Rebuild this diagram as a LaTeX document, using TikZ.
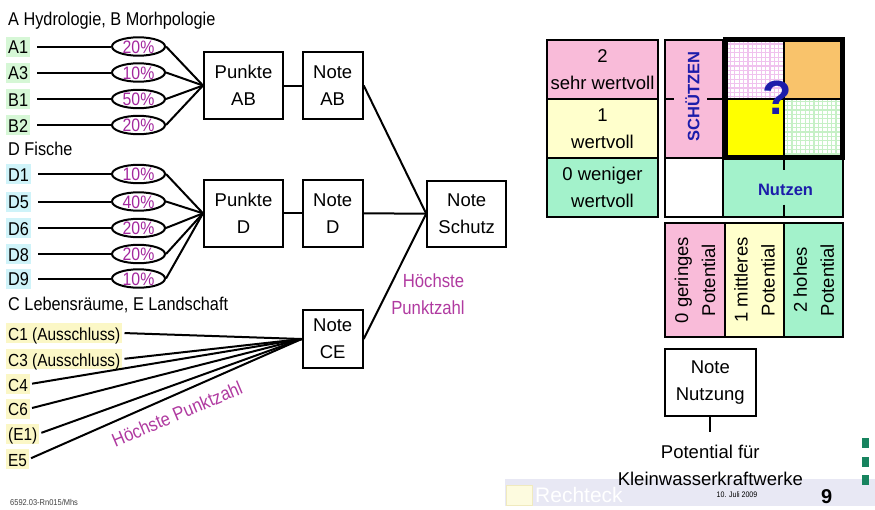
\documentclass[tikz,border=0pt]{standalone}
\usepackage{fontspec}
\setmainfont{Liberation Sans}
\newfontfamily\condfont[FakeStretch=0.88]{Liberation Sans}
\usetikzlibrary{shapes.geometric}

\definecolor{labA}{HTML}{D6F7D6}
\definecolor{labD}{HTML}{CFF3F9}
\definecolor{labC}{HTML}{FBF7C6}
\definecolor{pctcol}{HTML}{A3279E}
\definecolor{hpcol}{HTML}{B03AA0}
\definecolor{cellpink}{HTML}{F9BBD9}
\definecolor{cellyellow}{HTML}{FFFFCC}
\definecolor{cellgreen}{HTML}{A3F2CB}
\definecolor{cellorange}{HTML}{F9C36B}
\definecolor{brightyellow}{HTML}{FFFF00}
\definecolor{chkpink}{HTML}{F0C2EE}
\definecolor{chkgreen}{HTML}{C6F0C6}
\definecolor{bluetext}{HTML}{1C1CAA}
\definecolor{bandcol}{HTML}{E8E8F4}
\definecolor{squarecol}{HTML}{17845F}

\begin{document}
\begin{tikzpicture}[x=1pt,y=-1pt,
  conn/.style={line width=2pt},
  box/.style={draw, line width=2pt, fill=white, align=center, inner sep=0pt,
    font=\fontsize{18.5}{27}\selectfont},
  cell/.style={draw, line width=2pt, align=center, inner sep=0pt,
    font=\fontsize{18.5}{27}\selectfont},
  lab/.style={anchor=base west, inner xsep=2pt, inner ysep=2pt,
    text height=15pt, text depth=1pt, font=\condfont\fontsize{18.5}{22}\selectfont},
  labc/.style={lab, fill=labC, font=\condfont\fontsize{17.5}{22}\selectfont},
  pct/.style={ellipse, draw, line width=2pt, fill=white, minimum width=53pt,
    minimum height=18pt, inner sep=0pt, text height=13pt, text depth=0pt,
    text=pctcol, font=\condfont\fontsize{18}{20}\selectfont},
  head/.style={anchor=base west, inner sep=0pt, font=\condfont\fontsize{18.5}{22}\selectfont},
  hp/.style={inner sep=0pt, text=hpcol, font=\condfont\fontsize{19}{22}\selectfont},
  bluebold/.style={inner sep=0pt, text=bluetext, font=\bfseries\fontsize{16.5}{18}\selectfont},
]
\useasboundingbox (0,0) rectangle (875,509);

% ---------- left part: scoring tree ----------
\node[head] (hAB) at (8,25) {A Hydrologie, B Morhpologie};
\node[head] (hD) at (8,155) {D Fische};
\node[head] (hCE) at (8,310.5) {C Lebensräume, E Landschaft};

\node[box, minimum width=79pt, minimum height=67pt] (pab) at (243.5,85.5) {Punkte\\AB};
\node[box, minimum width=60pt, minimum height=67pt] (nab) at (332.7,85.5) {Note\\AB};
\node[box, minimum width=79pt, minimum height=67pt] (pd) at (243.5,213.3) {Punkte\\D};
\node[box, minimum width=60pt, minimum height=67pt] (nd) at (332.7,213.3) {Note\\D};
\node[box, minimum width=60pt, minimum height=58pt] (nce) at (332.7,339) {Note\\CE};
\node[box, minimum width=79pt, minimum height=66pt] (ns) at (466.7,213.7) {Note\\Schutz};

\foreach \t/\p/\yy [count=\i] in {A1/20/46.5, A3/10/72.5, B1/50/99, B2/20/125} {
  \node[lab, fill=labA] (la\i) at (6,\yy+7) {\t};
  \node[pct] (qa\i) at (138.5,\yy) {\p\%};
  \draw[conn, shorten <=7pt] (la\i.east) -- (qa\i.west);
  \draw[conn] (qa\i.east) -- (pab.west);
}

\foreach \t/\p/\yy [count=\i] in {D1/10/174, D5/40/201.5, D6/20/228, D8/20/254, D9/10/278.5} {
  \node[lab, fill=labD] (ld\i) at (6,\yy+7) {\t};
  \node[pct] (qd\i) at (138.5,\yy) {\p\%};
  \draw[conn, shorten <=7pt] (ld\i.east) -- (qd\i.west);
  \draw[conn] (qd\i.east) -- (pd.west);
}

\foreach \t/\yy [count=\i] in {C1 (Ausschluss)/333, C3 (Ausschluss)/359, C4/384, C6/408.5, (E1)/433.5, E5/459} {
  \node[labc] (lc\i) at (6,\yy+7) {\t};
  \draw[conn, shorten <=2pt] (lc\i.east) -- (nce.west);
}

\draw[conn] (pab) -- (nab);
\draw[conn] (pd) -- (nd);
\draw[conn] (nab.east) -- (ns.west);
\draw[conn] (nd.east) -- (ns.west);
\draw[conn] (nce.east) -- (ns.west);

\node[hp, rotate=23] (hpce) at (177,414) {Höchste Punktzahl};
\node[hp, anchor=base] (hps1) at (433.5,287.3) {Höchste};
\node[hp, anchor=base] (hps2) at (428,314) {Punktzahl};

% ---------- right part: value matrix ----------
\node[cell, fill=cellpink, minimum width=111.6pt, minimum height=59pt] (v2) at (602.5,69.5) {2\\sehr wertvoll};
\node[cell, fill=cellyellow, minimum width=111.6pt, minimum height=58.7pt] (v1) at (602.5,128.35) {1\\wertvoll};
\node[cell, fill=cellgreen, minimum width=111.6pt, minimum height=59pt] (v0) at (602.5,187.2) {0 weniger\\wertvoll};

\fill[cellpink] (665,40) rectangle (723.3,157.7);
\fill[white] (665,157.7) rectangle (723.3,216.7);
\fill[cellgreen] (723.3,157.7) rectangle (843.3,216.7);
% checkered quadrants
\fill[white] (723.3,40) rectangle (784,99);
\begin{scope}
  \clip (723.3,40) rectangle (784,99);
  \draw[chkpink, line width=1.3pt, step=4.4pt] (718,104) grid (790,35);
\end{scope}
\fill[cellorange] (784,40) rectangle (843.3,99);
\fill[brightyellow] (723.3,99) rectangle (784,157.7);
\fill[white] (784,99) rectangle (843.3,157.7);
\begin{scope}
  \clip (784,99) rectangle (843.3,157.7);
  \draw[chkgreen, line width=1.3pt, step=4.4pt] (780,162) grid (848,95);
\end{scope}
% grid lines
\draw[conn] (665,40) rectangle (843.3,216.7);
\draw[conn] (723.3,40) -- (723.3,216.7);
\draw[conn] (665,157.7) -- (843.3,157.7);
\draw[conn] (784,40) -- (784,157.7);
\draw[conn] (723.3,99) -- (843.3,99);
\draw[conn, dash pattern=on 9pt off 33pt on 17pt off 0pt] (665,99) -- (723.3,99);
\draw[conn, dash pattern=on 12pt off 35pt on 12pt off 0pt] (784,157.7) -- (784,216.7);
\draw[line width=5pt] (725,39) rectangle (842,157);

\node[bluebold, rotate=90] (sch) at (692.5,96.7) {SCHÜTZEN};
\node[bluebold] (nutz) at (785.5,190) {Nutzen};
\node[inner sep=0pt, text=bluetext, font=\bfseries\fontsize{48}{52}\selectfont] (qm) at (777.5,97.5) {?};

% potential row
\node[cell, rotate=90, fill=cellpink, minimum width=113.4pt, minimum height=60pt] (p0) at (695,280) {0 geringes\\Potential};
\node[cell, rotate=90, fill=cellyellow, minimum width=113.4pt, minimum height=59pt] (p1) at (754.5,280) {1 mittleres\\Potential};
\node[cell, rotate=90, fill=cellgreen, minimum width=113.4pt, minimum height=59.3pt] (p2) at (813.65,280) {2 hohes\\Potential};

\node[box, minimum width=90.7pt, minimum height=66.7pt] (nn) at (710.3,382.7) {Note\\Nutzung};
\coordinate (nnend) at (710.3,432);
\draw[conn] (nn.south) -- (nnend);

% ---------- footer ----------
\fill[bandcol] (505,479) rectangle (875,506);
\draw[fill={rgb,255:red,253;green,251;blue,223}, draw={rgb,255:red,240;green,234;blue,190}, line width=0.8pt] (506,485) rectangle (532,505);
\node[anchor=base west, inner sep=0pt, text=white, font=\fontsize{21}{24}\selectfont] (rt) at (535,502) {Rechteck};

\node[anchor=base, inner sep=0pt, font=\fontsize{18.5}{22}\selectfont] (pf) at (710.3,458.3) {Potential für};
\node[anchor=base, inner sep=0pt, font=\fontsize{18.5}{22}\selectfont] (kw) at (710.3,485) {Kleinwasserkraftwerke};

\node[anchor=base, inner sep=0pt, font=\condfont\fontsize{8}{9}\selectfont] (dt) at (737,497.5) {10. Juli 2009};
\node[anchor=base, inner sep=0pt, font=\bfseries\fontsize{20}{22}\selectfont] (pg) at (826.7,503) {9};
\node[anchor=base west, inner sep=0pt, text=black!75, font=\condfont\fontsize{8.5}{9}\selectfont] (ref) at (10,505) {6592.03-Rn015/Mhs};

\foreach \yy in {437.7, 456.5, 475.3}
  \fill[squarecol] (861.7,\yy) rectangle (868.5,\yy+10);
\end{tikzpicture}
\end{document}
